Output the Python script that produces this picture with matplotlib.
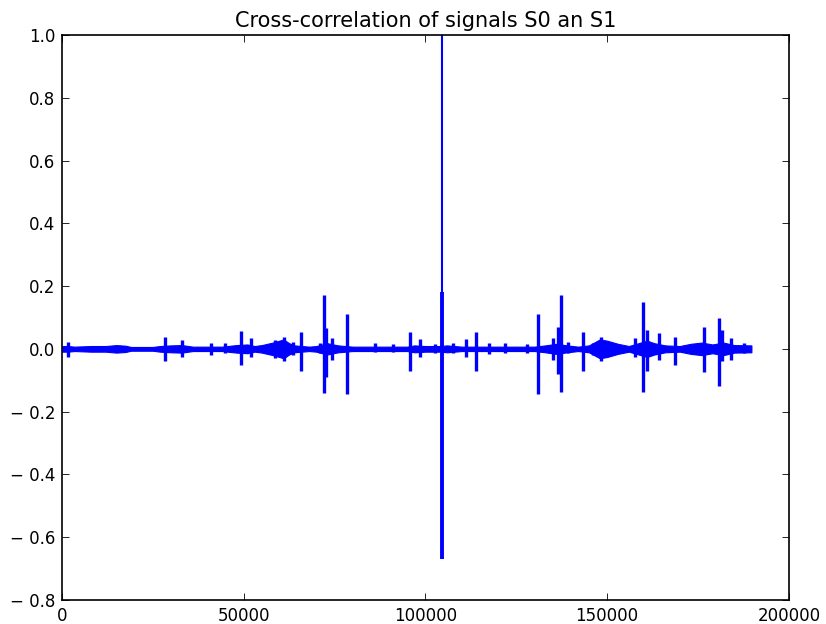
import matplotlib

matplotlib.use("Agg")
import matplotlib.pyplot as plt
import numpy as np
from matplotlib.ticker import FuncFormatter

plt.rcParams["font.family"] = ["DejaVu Sans"]

# background noise envelope of the cross-correlation (lag, half-amplitude)
band_lag = [0, 1500, 3500, 8000, 12000, 15000, 17500, 19000, 25000, 27000,
            30000, 33000, 36000, 44000, 48000, 51000, 53000, 55000, 58000, 61000,
            62500, 64000, 68000, 70000, 73000, 76000, 80000, 95000, 97000, 100000,
            104000, 106000, 110000, 130000, 133000, 136000, 139000, 142000, 145000, 148000,
            150000, 153000, 156000, 161000, 163000, 166000, 170000, 173000, 176000, 179000,
            182000, 185000, 189700]
band_amp = [0.009, 0.009, 0.007, 0.009, 0.009, 0.012, 0.010, 0.006, 0.006, 0.009,
            0.011, 0.012, 0.007, 0.007, 0.012, 0.014, 0.009, 0.012, 0.020, 0.030,
            0.018, 0.011, 0.007, 0.009, 0.018, 0.011, 0.007, 0.007, 0.011, 0.009,
            0.009, 0.011, 0.007, 0.007, 0.011, 0.016, 0.011, 0.007, 0.011, 0.030,
            0.026, 0.016, 0.009, 0.026, 0.018, 0.011, 0.009, 0.016, 0.020, 0.014,
            0.020, 0.012, 0.011]

# individual peaks: lag, positive extreme, negative extreme
spike_lag = [1700, 28300, 32900, 41000, 45000, 49400, 52000, 58500, 61000, 63500,
             65800, 71000, 72050, 72700, 74200, 78300, 86000, 91000, 95700, 98450,
             102600, 107600, 111300, 113800, 117500, 122000, 128000, 131000, 135100, 136600,
             137400, 139300, 143500, 146100, 148300, 157600, 159900, 161000, 164300, 168600,
             176600, 180800, 181600, 184200, 187800]
spike_up = [0.023, 0.039, 0.027, 0.018, 0.020, 0.057, 0.036, 0.028, 0.038, 0.022,
            0.054, 0.020, 0.170, 0.067, 0.036, 0.111, 0.020, 0.017, 0.053, 0.031,
            0.016, 0.020, 0.030, 0.053, 0.020, 0.020, 0.016, 0.110, 0.036, 0.070,
            0.170, 0.022, 0.053, 0.020, 0.038, 0.033, 0.148, 0.060, 0.052, 0.038,
            0.069, 0.098, 0.060, 0.036, 0.020]
spike_down = [-0.025, -0.040, -0.027, -0.018, -0.012, -0.051, -0.027, -0.030, -0.040, -0.020,
              -0.070, -0.012, -0.141, -0.090, -0.034, -0.144, -0.010, -0.010, -0.072, -0.027,
              -0.012, -0.012, -0.027, -0.072, -0.015, -0.012, -0.012, -0.144, -0.034, -0.080,
              -0.139, -0.012, -0.070, -0.020, -0.040, -0.025, -0.139, -0.070, -0.034, -0.051,
              -0.075, -0.117, -0.040, -0.036, -0.012]

# zero-lag peak
main_lag = 104700
main_up = 1.0
main_down = -0.67
main_core_up = 0.18

BLUE = "#0000ff"

fig = plt.figure(figsize=(8.26, 6.24), dpi=100)
ax = fig.add_axes([0.075, 0.0385, 0.88, 0.9055])

lag = np.array(band_lag)
amp = np.array(band_amp)
ax.fill_between(lag, -amp, amp, color=BLUE, lw=0.8, edgecolor=BLUE)
ax.plot(lag, np.zeros_like(amp), color=BLUE, lw=1.5)
ax.vlines(spike_lag, spike_down, spike_up, color=BLUE, lw=2.4)
ax.vlines([main_lag], [main_down], [main_up], color=BLUE, lw=1.5)
ax.vlines([main_lag], [main_down], [main_core_up], color=BLUE, lw=2.8)

ax.set_xlim(0, 200000)
ax.set_ylim(-0.8, 1.0)
ax.set_xticks(np.arange(0, 200001, 50000))
ax.set_yticks(np.arange(-0.8, 1.01, 0.2))


def fmt_y(v, _pos):
    if v < -1e-9:
        return "\u2212 %.1f" % abs(v)
    return "%.1f" % abs(v)


ax.yaxis.set_major_formatter(FuncFormatter(fmt_y))
ax.xaxis.set_major_formatter(FuncFormatter(lambda v, _p: "%d" % v))
ax.tick_params(direction="in", top=True, right=True, length=5, width=0.6,
               labelsize=12, pad=5)
for sp in ax.spines.values():
    sp.set_linewidth(1.2)

ax.set_title("Cross-correlation of signals S0 an S1", fontsize=15, pad=6)

fig.savefig("out.png", dpi=100)
